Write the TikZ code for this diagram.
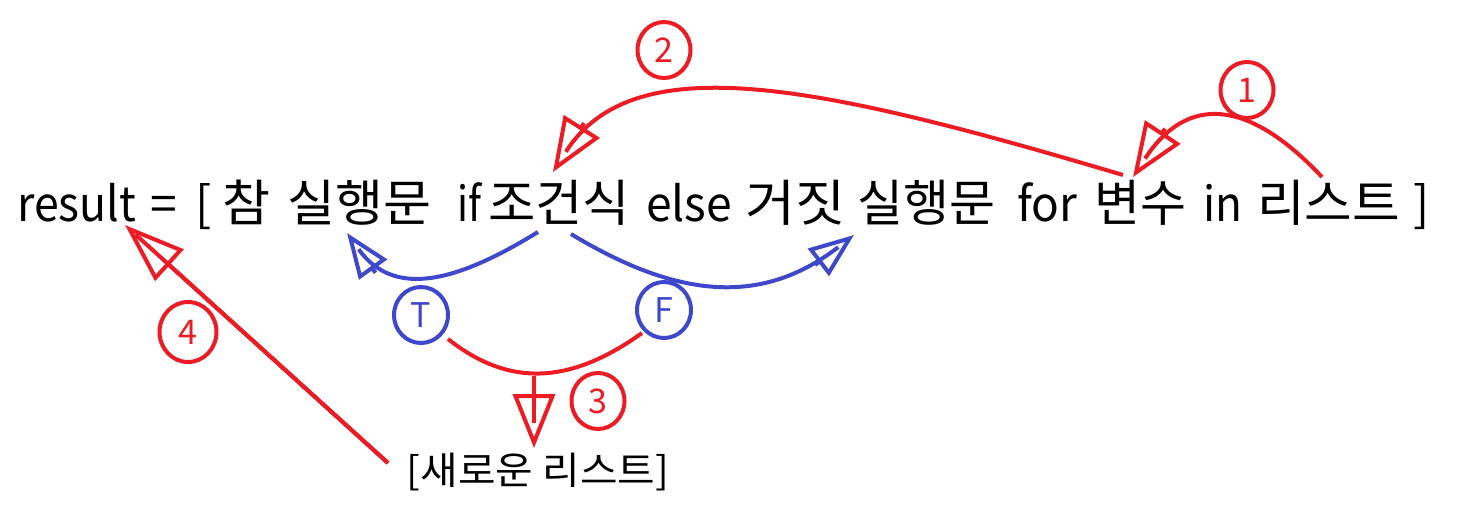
\documentclass[tikz,border=0pt]{standalone}
\usepackage{fontspec}
\usepackage{graphicx}
\setmainfont{Noto Sans CJK KR}
\usetikzlibrary{arrows.meta,shapes.geometric}
\definecolor{pred}{RGB}{237,28,36}
\definecolor{pblue}{RGB}{63,72,204}
\newcommand{\fitw}[2]{\resizebox{#1}{\height}{#2}}
\begin{document}
\begin{tikzpicture}[x=1pt,y=-1pt,
  word/.style={anchor=base west, inner sep=0pt, font=\fontsize{48}{48}\selectfont},
  kword/.style={anchor=base west, inner sep=0pt, font=\fontsize{50}{50}\selectfont},
  redline/.style={draw=pred, line width=4pt},
  blueline/.style={draw=pblue, line width=4pt},
  bighead/.style={-{Triangle[open,length=54pt,width=42pt]}},
  hugehead/.style={-{Triangle[open,length=60pt,width=42pt]}},
  midhead/.style={-{Triangle[open,length=45pt,width=34pt]}},
  intail/.style={shorten >=#1},
  numcirc/.style={ellipse, draw=pred, line width=4pt, text=pred, minimum width=53pt, minimum height=56pt, inner sep=0pt, font=\fontsize{34}{34}\selectfont},
  tfcirc/.style={ellipse, draw=pblue, line width=4pt, text=pblue, minimum width=54pt, minimum height=56pt, inner sep=0pt, font=\fontsize{34}{34}\selectfont},
]
\useasboundingbox (0,0) rectangle (1459,516);
\node[word] (w1) at (17,221) {\fitw{119pt}{result}};
\node[word] (w2) at (150,221) {=};
\node[word] (w3) at (195,221) {[};
\node[kword] (w4) at (222,221) {\fitw{48pt}{참}};
\node[kword] (w5) at (287,221) {\fitw{144pt}{실행문}};
\node[word] (w6) at (457,221) {\fitw{24pt}{if}};
\node[kword] (w7) at (488,221) {\fitw{142pt}{조건식}};
\node[word] (w8) at (646,221) {\fitw{86pt}{else}};
\node[kword] (w9) at (745,221) {\fitw{100pt}{거짓}};
\node[kword] (w10) at (857,221) {\fitw{138pt}{실행문}};
\node[word] (w11) at (1017,221) {\fitw{60pt}{for}};
\node[kword] (w12) at (1094,221) {\fitw{92pt}{변수}};
\node[word] (w13) at (1203,221) {\fitw{39pt}{in}};
\node[kword] (w14) at (1257,221) {\fitw{143pt}{리스트}};
\node[word] (w15) at (1413,221) {]};
\node[inner sep=0pt, font=\fontsize{38}{38}\selectfont] (newlist) at (538,472) {\fitw{262pt}{[새로운 리스트]}};

\node[numcirc] (c1) at (1247,90) {1};
\node[numcirc] (c2) at (664,50) {2};
\node[numcirc] (c3) at (598,401) {3};
\node[numcirc, minimum width=57pt, minimum height=60pt] (c4) at (188,332) {4};
\node[tfcirc] (cT) at (421,315) {T};
\node[tfcirc] (cF) at (664,310) {F};

% arrow 1
\coordinate (s1) at (1322,177);
\coordinate (t1) at (1133,177);
\coordinate (h1) at (1165,128.6);
\draw[redline, intail=22pt] (s1) .. controls (1240,90) and (1182,102) .. (t1);
\draw[redline, bighead] (h1) -- (t1);
% arrow 2
\coordinate (s2) at (1123,175);
\coordinate (t2) at (553,172);
\coordinate (h2) at (584,123);
\draw[redline, intail=24pt] (s2) .. controls (820,85) and (634,45) .. (t2);
\draw[redline, bighead] (h2) -- (t2);
% blue arrows
\coordinate (sT) at (538,232);
\coordinate (tT) at (347,233);
\coordinate (hT) at (375.5,272.8);
\draw[blueline, intail=20pt] (sT) .. controls (460,280) and (395,300) .. (tT);
\draw[blueline, midhead] (hT) -- (tT);
\coordinate (sF) at (571,234);
\coordinate (tF) at (854,235);
\coordinate (hF) at (815,265);
\draw[blueline, intail=20pt] (sF) .. controls (680,300) and (763,305) .. (tF);
\draw[blueline, midhead] (hF) -- (tF);
% arrow 3
\coordinate (a3) at (448,339);
\coordinate (b3) at (642,333);
\coordinate (m3) at (534,376);
\coordinate (t3) at (534,448);
\draw[redline] (a3) .. controls (500,380) and (560,392) .. (b3);
\draw[redline, bighead] (m3) -- (t3);
\draw[redline, intail=25pt] (m3) -- (t3);
% arrow 4
\coordinate (s4) at (388,463);
\coordinate (t4) at (125,225);
\draw[redline, hugehead] (s4) -- (t4);
\draw[redline, intail=14pt] (s4) -- (t4);
\end{tikzpicture}
\end{document}
